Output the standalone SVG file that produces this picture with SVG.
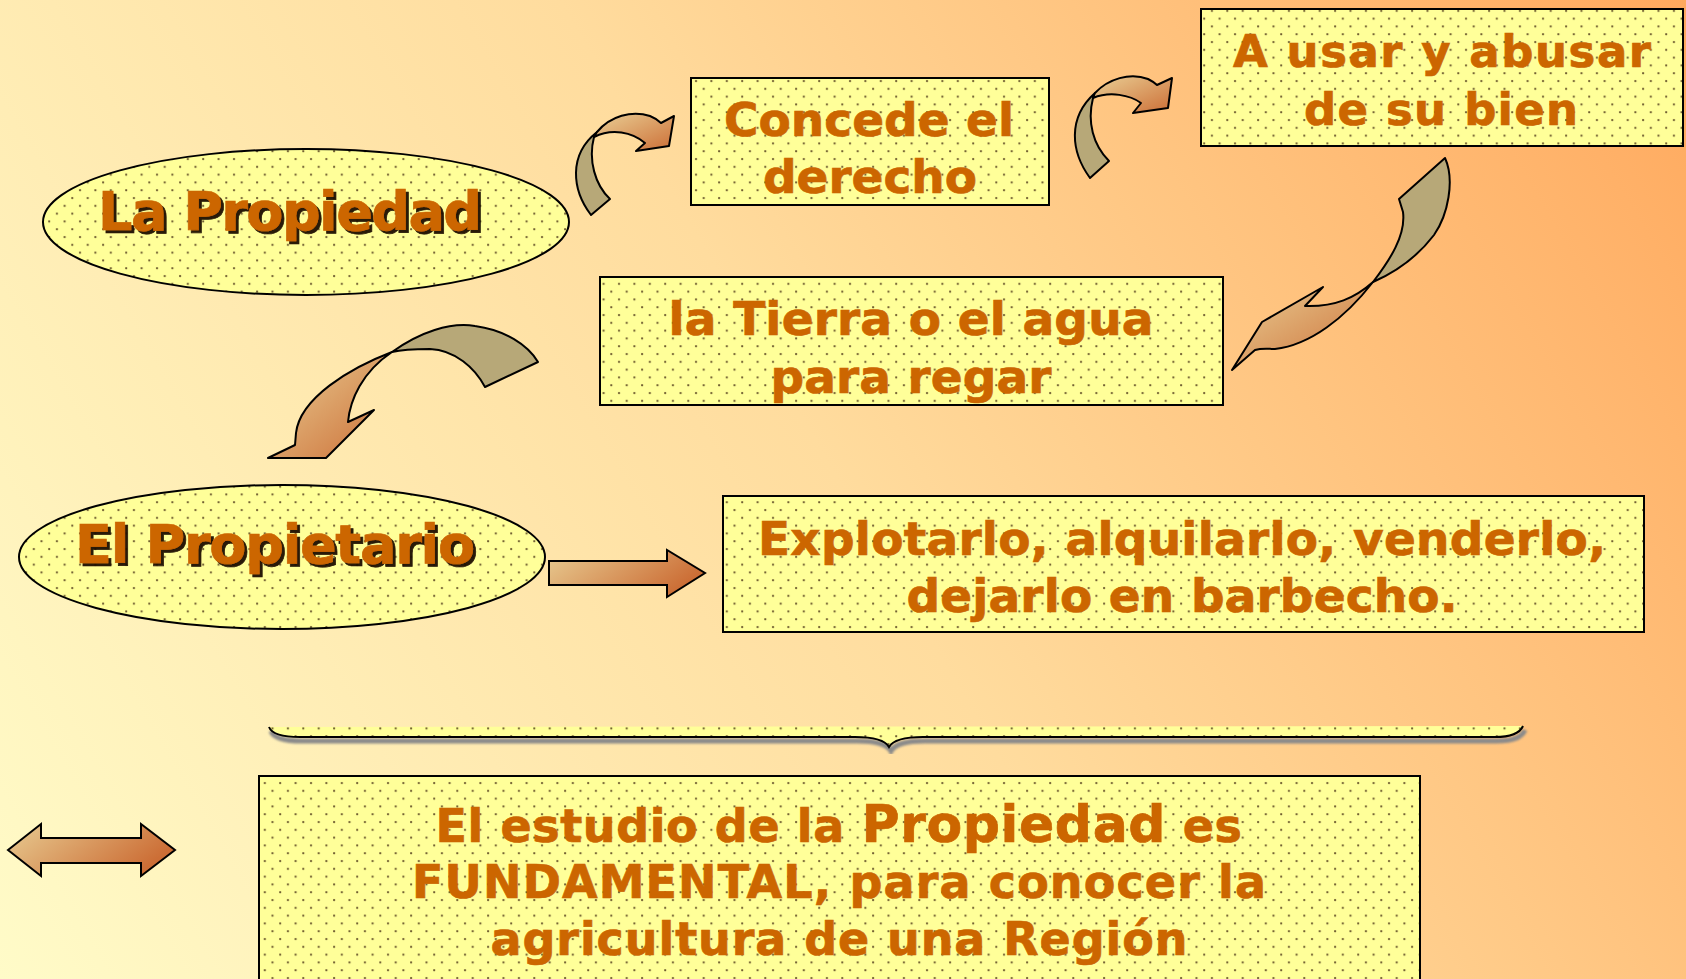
<svg xmlns="http://www.w3.org/2000/svg" width="1686" height="979" viewBox="0 0 1686 979">
<defs>
  <linearGradient id="bg" gradientUnits="userSpaceOnUse" x1="0" y1="979" x2="1686" y2="0">
    <stop offset="0" stop-color="#fffbc8"/>
    <stop offset="0.5" stop-color="#ffdc9e"/>
    <stop offset="1" stop-color="#ffa95e"/>
  </linearGradient>
  <pattern id="dots" patternUnits="userSpaceOnUse" width="15.4" height="15.6">
    <rect width="15.4" height="15.6" fill="#ffff99"/>
    <circle cx="3" cy="3" r="1.15" fill="#6e5c30"/>
    <circle cx="10.7" cy="10.8" r="1.15" fill="#6e5c30"/>
  </pattern>
  <linearGradient id="ag" x1="0" y1="0" x2="1" y2="1">
    <stop offset="0" stop-color="#ead096"/>
    <stop offset="1" stop-color="#cc6e36"/>
  </linearGradient>
  <linearGradient id="agh" x1="0" y1="0" x2="1" y2="0.4">
    <stop offset="0" stop-color="#e8cc92"/>
    <stop offset="1" stop-color="#cc6e36"/>
  </linearGradient>
  <filter id="ts" x="-5%" y="-10%" width="115%" height="130%">
    <feDropShadow dx="3" dy="3" stdDeviation="0.4" flood-color="#1a1000" flood-opacity="0.95"/>
  </filter>
  <filter id="blur"><feGaussianBlur stdDeviation="1"/></filter>
</defs>
<style>
  .box{fill:url(#dots);stroke:#000;stroke-width:2}
  .t{font-family:"DejaVu Sans",Verdana,sans-serif;font-weight:bold;fill:#cc6600;stroke:#cc6600;stroke-width:0.7;text-anchor:middle}
  .khaki{fill:#b7a878;stroke:#000;stroke-width:2;stroke-linejoin:round}
  .front{fill:url(#ag);stroke:#000;stroke-width:2;stroke-linejoin:round}
  .straight{fill:url(#agh);stroke:#000;stroke-width:2;stroke-linejoin:miter}
</style>

<rect width="1686" height="979" fill="url(#bg)"/>

<g id="node-la-propiedad">
  <ellipse cx="306" cy="222" rx="263" ry="73" class="box"/>
  <text class="t" x="290" y="230" font-size="54" textLength="384" lengthAdjust="spacing" filter="url(#ts)">La Propiedad</text>
</g>

<g id="node-concede">
  <rect x="691" y="78" width="358" height="127" class="box"/>
  <text class="t" x="869" y="136" font-size="47" textLength="290" lengthAdjust="spacing">Concede el</text>
  <text class="t" x="870" y="193" font-size="47" textLength="214" lengthAdjust="spacing">derecho</text>
</g>

<g id="node-usar">
  <rect x="1201" y="9" width="482" height="137" class="box"/>
  <text class="t" x="1442" y="67" font-size="45" textLength="418" lengthAdjust="spacing">A usar y abusar</text>
  <text class="t" x="1441" y="125" font-size="45" textLength="274" lengthAdjust="spacing">de su bien</text>
</g>

<g id="node-tierra">
  <rect x="600" y="277" width="623" height="128" class="box"/>
  <text class="t" x="911" y="335" font-size="47" textLength="485" lengthAdjust="spacing">la Tierra o el agua</text>
  <text class="t" x="911" y="393" font-size="47" textLength="281" lengthAdjust="spacing">para regar</text>
</g>

<g id="node-propietario">
  <ellipse cx="282" cy="557" rx="263" ry="72" class="box"/>
  <text class="t" x="275" y="563" font-size="54" textLength="400" lengthAdjust="spacing" filter="url(#ts)">El Propietario</text>
</g>

<g id="node-explotarlo">
  <rect x="723" y="496" width="921" height="136" class="box"/>
  <text class="t" x="1182" y="555" font-size="47" textLength="848" lengthAdjust="spacing">Explotarlo, alquilarlo, venderlo,</text>
  <text class="t" x="1182" y="612" font-size="47" textLength="551" lengthAdjust="spacing">dejarlo en barbecho.</text>
</g>

<g id="node-estudio">
  <rect x="259" y="776" width="1161" height="230" class="box"/>
  <text class="t" x="839" y="842" font-size="46" letter-spacing="0.6">El estudio de la <tspan font-size="52">Propiedad</tspan> es</text>
  <text class="t" x="839" y="898" font-size="46" textLength="854" lengthAdjust="spacing">FUNDAMENTAL, para conocer la</text>
  <text class="t" x="839" y="955" font-size="46" textLength="697" lengthAdjust="spacing">agricultura de una Región</text>
</g>

<g id="brace">
  <path d="M271,731 C274,739 287,741 302,741 L857,741 C877,741 887,744 891,751 C895,744 905,741 925,741 L1497,741 C1514,741 1522,737 1525,730" fill="none" stroke="#8a8a8a" stroke-width="5" filter="url(#blur)"/>
  <path d="M269,727 C272,735 285,737 300,737 L855,737 C875,737 885,740 889,747 C893,740 903,737 923,737 L1495,737 C1512,737 1520,733 1523,726 Z" fill="url(#dots)" stroke="none"/>
  <path d="M269,727 C272,735 285,737 300,737 L855,737 C875,737 885,740 889,747 C893,740 903,737 923,737 L1495,737 C1512,737 1520,733 1523,726" fill="none" stroke="#000" stroke-width="2"/>
</g>

<g id="connectors">
  <g id="arrow-propiedad-concede">
    <path class="khaki" d="M591,215 C572,190 568,155 597,132 L594,137 C588,160 595,185 610,199 Z"/>
    <path class="front" d="M597,132 C610,116 632,110 650,116 C655,118 659,121 661,123 L674,116 L669,146 L636,151 L645,143 C632,132 612,128 594,137 Z"/>
  </g>
  <g id="arrow-concede-usar">
    <path class="khaki" d="M1090,178 C1071,152 1067,118 1095,93 L1093,98 C1087,122 1093,145 1109,161 Z"/>
    <path class="front" d="M1095,93 C1108,79 1130,72 1148,79 C1152,81 1155,83 1157,85 L1172,78 L1168,108 L1133,113 L1141,103 C1130,95 1110,91 1093,98 Z"/>
  </g>
  <g id="arrow-usar-tierra">
    <path class="khaki" d="M1399,199 L1445,158 C1455,180 1448,215 1434,235 C1418,256 1396,272 1373,282 C1390,260 1406,235 1403,212 Z"/>
    <path class="front" d="M1373,282 C1355,298 1335,307 1305,306 L1323,287 L1262,322 L1232,370 L1255,350 C1262,348 1268,349 1275,349 C1310,345 1345,318 1373,282 Z"/>
  </g>
  <g id="arrow-tierra-propietario">
    <path class="khaki" d="M392,352 C420,332 450,322 475,326 C505,330 528,345 538,362 L485,387 C475,368 455,350 430,349 C415,349 400,350 392,352 Z"/>
    <path class="front" d="M392,352 C350,368 300,398 296,433 L295,445 L268,458 L326,458 L374,410 L348,422 C350,400 362,372 392,352 Z"/>
  </g>
  <path id="arrow-propietario-explotarlo" class="straight" d="M549,561 H667 V550 L705,573 L667,597 V585 H549 Z"/>
  <path id="arrow-double" class="straight" d="M8,850 L41,824 V838 H141 V824 L175,850 L141,876 V863 H41 V876 Z"/>
</g>
</svg>
